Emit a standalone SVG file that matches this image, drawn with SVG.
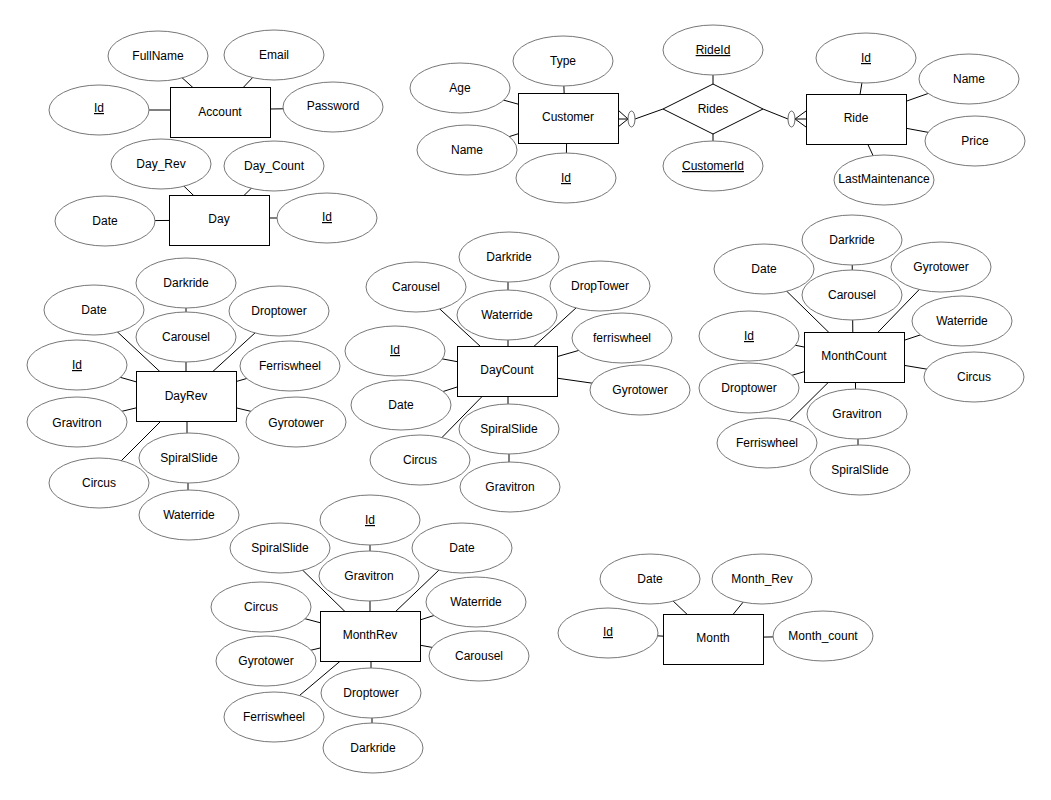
<svg xmlns="http://www.w3.org/2000/svg" width="1051" height="800" viewBox="0 0 1051 800">
<style>
.bg{fill:#fff}
.e{fill:#fff;stroke:#777;stroke-width:1}
.r{fill:#fff;stroke:#000;stroke-width:1}
.c line,.c path,.c polyline{stroke:#000;stroke-width:1;fill:none}
.c ellipse{fill:#fff;stroke:#666;stroke-width:1}
text{font-family:"Liberation Sans",Arial,Helvetica,sans-serif;font-size:12px;fill:#000;text-anchor:middle}
.u{text-decoration:underline}
</style>
<rect class="bg" x="0" y="0" width="1051" height="800"/>
<g id="connectors" class="c">
<!-- Account -->
<line x1="158" y1="56" x2="220" y2="112"/>
<line x1="274" y1="55" x2="220" y2="112"/>
<line x1="99" y1="110" x2="170" y2="110"/>
<line x1="333" y1="108" x2="270" y2="109"/>
<!-- Day -->
<line x1="161" y1="164" x2="219" y2="220"/>
<line x1="274" y1="166" x2="219" y2="220"/>
<line x1="105" y1="221" x2="219" y2="220"/>
<line x1="327" y1="218" x2="219" y2="218"/>
<!-- Customer -->
<line x1="563" y1="61" x2="565" y2="118"/>
<line x1="460" y1="88" x2="568" y2="118"/>
<line x1="467" y1="150" x2="568" y2="118"/>
<line x1="566" y1="178" x2="567" y2="118"/>
<!-- Rides -->
<line x1="713" y1="50" x2="713" y2="109"/>
<line x1="713" y1="166" x2="713" y2="109"/>
<line x1="635" y1="119" x2="663" y2="109"/>
<polyline points="618,110 628,119 618,127"/>
<line x1="618" y1="119" x2="628" y2="119"/>
<ellipse cx="631.5" cy="119" rx="3.5" ry="8"/>
<line x1="763" y1="109" x2="788" y2="119"/>
<polyline points="806,111 795,119 806,127"/>
<line x1="795" y1="119" x2="806" y2="119"/>
<ellipse cx="791.5" cy="119" rx="3.5" ry="8"/>
<!-- Ride -->
<line x1="866" y1="58" x2="856" y2="119"/>
<line x1="969" y1="79" x2="856" y2="119"/>
<line x1="975" y1="141" x2="856" y2="119"/>
<line x1="884" y1="179" x2="856" y2="119"/>
<!-- DayRev -->
<line x1="186" y1="283" x2="186" y2="396"/>
<line x1="94" y1="310" x2="186" y2="396"/>
<line x1="279" y1="311" x2="186" y2="396"/>
<line x1="77" y1="365" x2="186" y2="396"/>
<line x1="290" y1="366" x2="186" y2="396"/>
<line x1="77" y1="422" x2="186" y2="396"/>
<line x1="296" y1="422" x2="186" y2="396"/>
<line x1="187" y1="458" x2="187" y2="396"/>
<line x1="99" y1="483" x2="186" y2="396"/>
<line x1="188" y1="515" x2="188" y2="458"/>
<!-- DayCount -->
<line x1="508" y1="257" x2="508" y2="371"/>
<line x1="416" y1="287" x2="507" y2="371"/>
<line x1="600" y1="286" x2="507" y2="371"/>
<line x1="395" y1="350" x2="507" y2="371"/>
<line x1="622" y1="338" x2="507" y2="371"/>
<line x1="401" y1="405" x2="507" y2="371"/>
<line x1="640" y1="390" x2="507" y2="371"/>
<line x1="508" y1="429" x2="508" y2="371"/>
<line x1="420" y1="460" x2="507" y2="371"/>
<line x1="509" y1="487" x2="509" y2="429"/>
<!-- MonthCount -->
<line x1="852" y1="240" x2="853" y2="357"/>
<line x1="764" y1="269" x2="854" y2="357"/>
<line x1="941" y1="267" x2="854" y2="357"/>
<line x1="962" y1="321" x2="854" y2="357"/>
<line x1="749" y1="336" x2="854" y2="357"/>
<line x1="749" y1="388" x2="854" y2="357"/>
<line x1="974" y1="377" x2="854" y2="357"/>
<line x1="856" y1="414" x2="855" y2="357"/>
<line x1="767" y1="443" x2="854" y2="357"/>
<line x1="858" y1="470" x2="858" y2="414"/>
<!-- MonthRev -->
<line x1="370" y1="520" x2="370" y2="636"/>
<line x1="280" y1="548" x2="370" y2="636"/>
<line x1="462" y1="548" x2="370" y2="636"/>
<line x1="261" y1="607" x2="370" y2="636"/>
<line x1="476" y1="602" x2="370" y2="636"/>
<line x1="266" y1="661" x2="370" y2="636"/>
<line x1="479" y1="656" x2="370" y2="636"/>
<line x1="371" y1="693" x2="371" y2="636"/>
<line x1="274" y1="717" x2="370" y2="636"/>
<line x1="372" y1="748" x2="372" y2="693"/>
<!-- Month -->
<line x1="650" y1="579" x2="713" y2="639"/>
<line x1="762" y1="579" x2="713" y2="639"/>
<line x1="608" y1="633" x2="713" y2="639"/>
<line x1="823" y1="636" x2="713" y2="638"/>
</g>

<!-- Account -->
<g id="account"><rect class="r" x="170.5" y="87.5" width="100" height="50"/><text x="220" y="116">Account</text></g>
<g id="account-fullname"><ellipse class="e" cx="158" cy="56" rx="50" ry="25"/><text x="158" y="60">FullName</text></g>
<g id="account-email"><ellipse class="e" cx="274" cy="55" rx="50" ry="25"/><text x="274" y="59">Email</text></g>
<g id="account-id"><ellipse class="e" cx="99" cy="110" rx="50" ry="25"/><text class="u" x="99" y="112">Id</text></g>
<g id="account-password"><ellipse class="e" cx="333" cy="107" rx="50" ry="25"/><text x="333" y="110">Password</text></g>

<!-- Day -->
<g id="day"><rect class="r" x="169.5" y="195.5" width="100" height="50"/><text x="219" y="223">Day</text></g>
<g id="day-rev"><ellipse class="e" cx="161" cy="164" rx="50" ry="25"/><text x="161" y="168">Day_Rev</text></g>
<g id="day-count"><ellipse class="e" cx="274" cy="166" rx="50" ry="25"/><text x="274" y="170">Day_Count</text></g>
<g id="day-date"><ellipse class="e" cx="105" cy="221" rx="50" ry="25"/><text x="105" y="225">Date</text></g>
<g id="day-id"><ellipse class="e" cx="327" cy="218" rx="50" ry="25"/><text class="u" x="327" y="221">Id</text></g>

<!-- Customer -->
<g id="customer"><rect class="r" x="518.5" y="93.5" width="100" height="50"/><text x="568" y="121">Customer</text></g>
<g id="customer-type"><ellipse class="e" cx="563" cy="61" rx="50" ry="25"/><text x="563" y="65">Type</text></g>
<g id="customer-age"><ellipse class="e" cx="460" cy="88" rx="50" ry="25"/><text x="460" y="92">Age</text></g>
<g id="customer-name"><ellipse class="e" cx="467" cy="150" rx="50" ry="25"/><text x="467" y="154">Name</text></g>
<g id="customer-id"><ellipse class="e" cx="566" cy="178" rx="50" ry="25"/><text class="u" x="566" y="182">Id</text></g>

<!-- Rides -->
<g id="rides"><polygon class="r" points="663,109 713,84 763,109 713,134"/><text x="713" y="113">Rides</text></g>
<g id="rides-rideid"><ellipse class="e" cx="713" cy="50" rx="50" ry="25"/><text class="u" x="713" y="54">RideId</text></g>
<g id="rides-customerid"><ellipse class="e" cx="713" cy="166" rx="50" ry="25"/><text class="u" x="713" y="170">CustomerId</text></g>

<!-- Ride -->
<g id="ride"><rect class="r" x="806.5" y="94.5" width="100" height="50"/><text x="856" y="122">Ride</text></g>
<g id="ride-id"><ellipse class="e" cx="866" cy="58" rx="50" ry="25"/><text class="u" x="866" y="62">Id</text></g>
<g id="ride-name"><ellipse class="e" cx="969" cy="79" rx="50" ry="25"/><text x="969" y="83">Name</text></g>
<g id="ride-price"><ellipse class="e" cx="975" cy="141" rx="50" ry="25"/><text x="975" y="145">Price</text></g>
<g id="ride-lastmaintenance"><ellipse class="e" cx="884" cy="180" rx="50" ry="25"/><text x="884" y="183">LastMaintenance</text></g>

<!-- DayRev -->
<g id="dayrev"><rect class="r" x="136.5" y="371.5" width="100" height="50"/><text x="186" y="400">DayRev</text></g>
<g id="dayrev-darkride"><ellipse class="e" cx="186" cy="283" rx="50" ry="25"/><text x="186" y="287">Darkride</text></g>
<g id="dayrev-date"><ellipse class="e" cx="94" cy="310" rx="50" ry="25"/><text x="94" y="314">Date</text></g>
<g id="dayrev-carousel"><ellipse class="e" cx="186" cy="337" rx="50" ry="25"/><text x="186" y="341">Carousel</text></g>
<g id="dayrev-droptower"><ellipse class="e" cx="279" cy="311" rx="50" ry="25"/><text x="279" y="315">Droptower</text></g>
<g id="dayrev-id"><ellipse class="e" cx="77" cy="365" rx="50" ry="25"/><text class="u" x="77" y="369">Id</text></g>
<g id="dayrev-ferriswheel"><ellipse class="e" cx="290" cy="366" rx="50" ry="25"/><text x="290" y="370">Ferriswheel</text></g>
<g id="dayrev-gravitron"><ellipse class="e" cx="77" cy="422" rx="50" ry="25"/><text x="77" y="427">Gravitron</text></g>
<g id="dayrev-gyrotower"><ellipse class="e" cx="296" cy="422" rx="50" ry="25"/><text x="296" y="427">Gyrotower</text></g>
<g id="dayrev-spiralslide"><ellipse class="e" cx="189" cy="458" rx="50" ry="25"/><text x="189" y="462">SpiralSlide</text></g>
<g id="dayrev-circus"><ellipse class="e" cx="99" cy="483" rx="50" ry="25"/><text x="99" y="487">Circus</text></g>
<g id="dayrev-waterride"><ellipse class="e" cx="189" cy="515" rx="50" ry="25"/><text x="189" y="519">Waterride</text></g>

<!-- DayCount -->
<g id="daycount"><rect class="r" x="457.5" y="346.5" width="100" height="50"/><text x="507" y="374">DayCount</text></g>
<g id="daycount-darkride"><ellipse class="e" cx="509" cy="257" rx="50" ry="25"/><text x="509" y="261">Darkride</text></g>
<g id="daycount-carousel"><ellipse class="e" cx="416" cy="287" rx="50" ry="25"/><text x="416" y="291">Carousel</text></g>
<g id="daycount-waterride"><ellipse class="e" cx="507" cy="315" rx="50" ry="25"/><text x="507" y="319">Waterride</text></g>
<g id="daycount-droptower"><ellipse class="e" cx="600" cy="286" rx="50" ry="25"/><text x="600" y="290">DropTower</text></g>
<g id="daycount-id"><ellipse class="e" cx="395" cy="351" rx="50" ry="25"/><text class="u" x="395" y="354">Id</text></g>
<g id="daycount-ferriswheel"><ellipse class="e" cx="622" cy="338" rx="50" ry="25"/><text x="622" y="342">ferriswheel</text></g>
<g id="daycount-date"><ellipse class="e" cx="401" cy="405" rx="50" ry="25"/><text x="401" y="409">Date</text></g>
<g id="daycount-gyrotower"><ellipse class="e" cx="640" cy="390" rx="50" ry="25"/><text x="640" y="394">Gyrotower</text></g>
<g id="daycount-spiralslide"><ellipse class="e" cx="509" cy="429" rx="50" ry="25"/><text x="509" y="433">SpiralSlide</text></g>
<g id="daycount-circus"><ellipse class="e" cx="420" cy="460" rx="50" ry="25"/><text x="420" y="464">Circus</text></g>
<g id="daycount-gravitron"><ellipse class="e" cx="510" cy="487" rx="50" ry="25"/><text x="510" y="491">Gravitron</text></g>

<!-- MonthCount -->
<g id="monthcount"><rect class="r" x="804.5" y="332.5" width="100" height="50"/><text x="854" y="360">MonthCount</text></g>
<g id="monthcount-darkride"><ellipse class="e" cx="852" cy="240" rx="50" ry="25"/><text x="852" y="244">Darkride</text></g>
<g id="monthcount-date"><ellipse class="e" cx="764" cy="269" rx="50" ry="25"/><text x="764" y="273">Date</text></g>
<g id="monthcount-gyrotower"><ellipse class="e" cx="941" cy="267" rx="50" ry="25"/><text x="941" y="271">Gyrotower</text></g>
<g id="monthcount-carousel"><ellipse class="e" cx="852" cy="295" rx="50" ry="25"/><text x="852" y="299">Carousel</text></g>
<g id="monthcount-waterride"><ellipse class="e" cx="962" cy="321" rx="50" ry="25"/><text x="962" y="325">Waterride</text></g>
<g id="monthcount-id"><ellipse class="e" cx="749" cy="336" rx="50" ry="25"/><text class="u" x="749" y="340">Id</text></g>
<g id="monthcount-droptower"><ellipse class="e" cx="749" cy="388" rx="50" ry="25"/><text x="749" y="392">Droptower</text></g>
<g id="monthcount-circus"><ellipse class="e" cx="974" cy="377" rx="50" ry="25"/><text x="974" y="381">Circus</text></g>
<g id="monthcount-gravitron"><ellipse class="e" cx="857" cy="414" rx="50" ry="25"/><text x="857" y="418">Gravitron</text></g>
<g id="monthcount-ferriswheel"><ellipse class="e" cx="767" cy="443" rx="50" ry="25"/><text x="767" y="447">Ferriswheel</text></g>
<g id="monthcount-spiralslide"><ellipse class="e" cx="860" cy="470" rx="50" ry="25"/><text x="860" y="474">SpiralSlide</text></g>

<!-- MonthRev -->
<g id="monthrev"><rect class="r" x="320.5" y="611.5" width="100" height="50"/><text x="370" y="639">MonthRev</text></g>
<g id="monthrev-id"><ellipse class="e" cx="370" cy="520" rx="50" ry="25"/><text class="u" x="370" y="524">Id</text></g>
<g id="monthrev-spiralslide"><ellipse class="e" cx="280" cy="548" rx="50" ry="25"/><text x="280" y="552">SpiralSlide</text></g>
<g id="monthrev-date"><ellipse class="e" cx="462" cy="548" rx="50" ry="25"/><text x="462" y="552">Date</text></g>
<g id="monthrev-gravitron"><ellipse class="e" cx="369" cy="576" rx="50" ry="25"/><text x="369" y="580">Gravitron</text></g>
<g id="monthrev-circus"><ellipse class="e" cx="261" cy="607" rx="50" ry="25"/><text x="261" y="611">Circus</text></g>
<g id="monthrev-waterride"><ellipse class="e" cx="476" cy="602" rx="50" ry="25"/><text x="476" y="606">Waterride</text></g>
<g id="monthrev-gyrotower"><ellipse class="e" cx="266" cy="661" rx="50" ry="25"/><text x="266" y="665">Gyrotower</text></g>
<g id="monthrev-carousel"><ellipse class="e" cx="479" cy="656" rx="50" ry="25"/><text x="479" y="660">Carousel</text></g>
<g id="monthrev-droptower"><ellipse class="e" cx="371" cy="693" rx="50" ry="25"/><text x="371" y="697">Droptower</text></g>
<g id="monthrev-ferriswheel"><ellipse class="e" cx="274" cy="717" rx="50" ry="25"/><text x="274" y="721">Ferriswheel</text></g>
<g id="monthrev-darkride"><ellipse class="e" cx="373" cy="748" rx="50" ry="25"/><text x="373" y="752">Darkride</text></g>

<!-- Month -->
<g id="month"><rect class="r" x="663.5" y="614.5" width="100" height="50"/><text x="713" y="642">Month</text></g>
<g id="month-date"><ellipse class="e" cx="650" cy="579" rx="50" ry="25"/><text x="650" y="583">Date</text></g>
<g id="month-rev"><ellipse class="e" cx="762" cy="579" rx="50" ry="25"/><text x="762" y="583">Month_Rev</text></g>
<g id="month-id"><ellipse class="e" cx="608" cy="633" rx="50" ry="25"/><text class="u" x="608" y="636">Id</text></g>
<g id="month-count"><ellipse class="e" cx="823" cy="636" rx="50" ry="25"/><text x="823" y="640">Month_count</text></g>
</svg>
